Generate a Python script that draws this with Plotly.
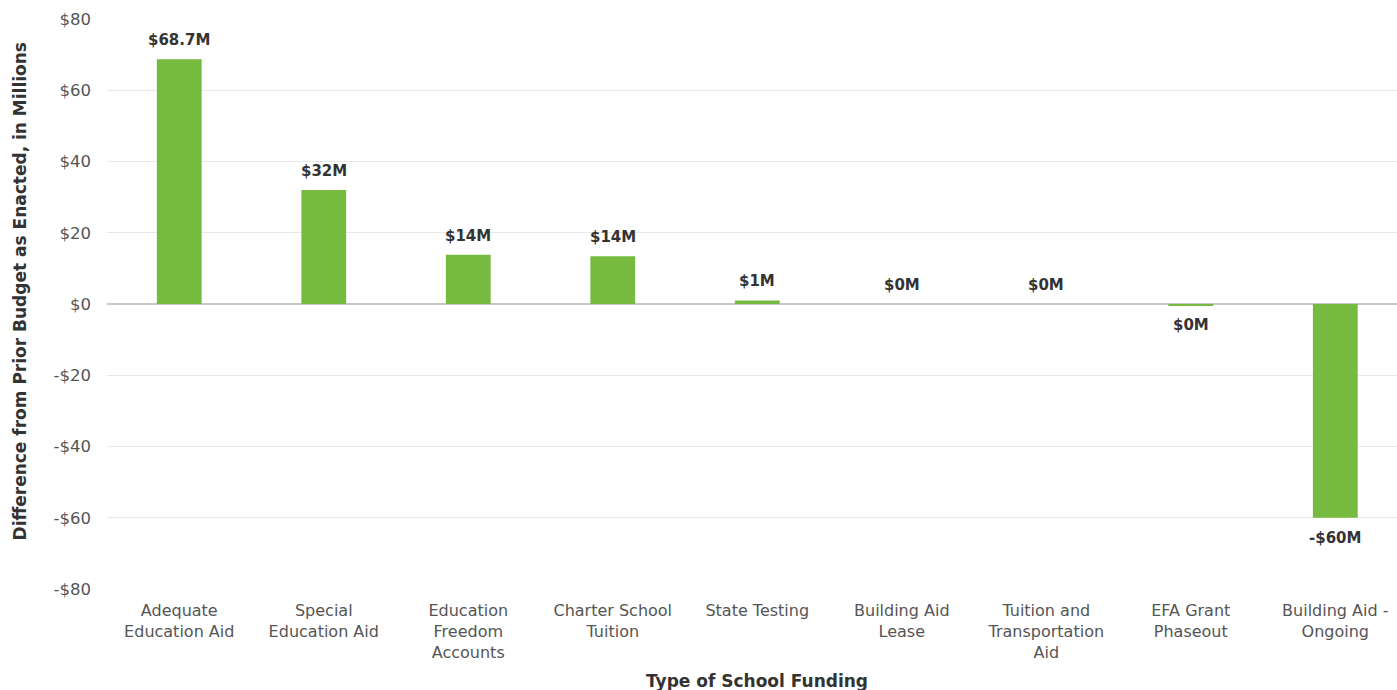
import plotly.graph_objects as go

categories = [
    "Adequate<br>Education Aid",
    "Special<br>Education Aid",
    "Education<br>Freedom<br>Accounts",
    "Charter School<br>Tuition",
    "State Testing",
    "Building Aid<br>Lease",
    "Tuition and<br>Transportation<br>Aid",
    "EFA Grant<br>Phaseout",
    "Building Aid -<br>Ongoing",
]
values = [68.7, 32, 13.8, 13.4, 1, 0, 0, -0.4, -60]
value_labels = ["$68.7M", "$32M", "$14M", "$14M", "$1M", "$0M", "$0M", "$0M", "-$60M"]

tick_vals = [-80, -60, -40, -20, 0, 20, 40, 60, 80]
tick_text = ["-$80", "-$60", "-$40", "-$20", "$0", "$20", "$40", "$60", "$80"]

x_title = "Type of School Funding"
y_title = "Difference from Prior Budget as Enacted, in Millions"

FONT = "'DejaVu Sans', 'Open Sans', sans-serif"
GREEN = "#76bb40"

fig = go.Figure(
    go.Bar(
        x=categories,
        y=values,
        marker=dict(color=GREEN, line=dict(width=0)),
        cliponaxis=False,
        hoverinfo="skip",
    )
)

# value labels sit just beyond the end of each bar
for cat, val, lab in zip(categories, values, value_labels):
    fig.add_annotation(
        x=cat,
        y=val,
        text=lab,
        showarrow=False,
        yanchor="middle",
        yshift=19 if val >= 0 else -20,
        font=dict(family=FONT, size=15, color="#333333", weight="bold"),
    )

# axis titles
fig.add_annotation(
    text=x_title,
    xref="paper", yref="paper",
    x=0.504, y=0,
    yshift=-92,
    xanchor="center", yanchor="middle",
    showarrow=False,
    font=dict(family=FONT, size=17, color="#333333", weight="bold"),
)
fig.add_annotation(
    text=y_title,
    xref="paper", yref="paper",
    x=0, y=0.522,
    xshift=-87,
    textangle=-90,
    xanchor="center", yanchor="middle",
    showarrow=False,
    font=dict(family=FONT, size=17, color="#333333", weight="bold"),
)

fig.update_layout(
    width=1397,
    height=690,
    margin=dict(l=107, r=0, t=19, b=101),
    paper_bgcolor="white",
    plot_bgcolor="white",
    bargap=0.69,
    showlegend=False,
    font=dict(family=FONT, color="#555555", size=16),
    xaxis=dict(
        range=[-0.5, 8.427],
        showgrid=False,
        showline=False,
        ticks="",
        ticklabelstandoff=10,
        tickfont=dict(family=FONT, size=16, color="#555555"),
    ),
    yaxis=dict(
        range=[-80, 80],
        tickvals=tick_vals,
        ticktext=tick_text,
        showgrid=True,
        gridcolor="#e8e8e8",
        gridwidth=1,
        zeroline=True,
        zerolinecolor="#c8c8c8",
        zerolinewidth=2,
        ticks="",
        ticklabelstandoff=15,
        tickfont=dict(family=FONT, size=16.5, color="#555555"),
    ),
)

fig.write_html("out.html")
